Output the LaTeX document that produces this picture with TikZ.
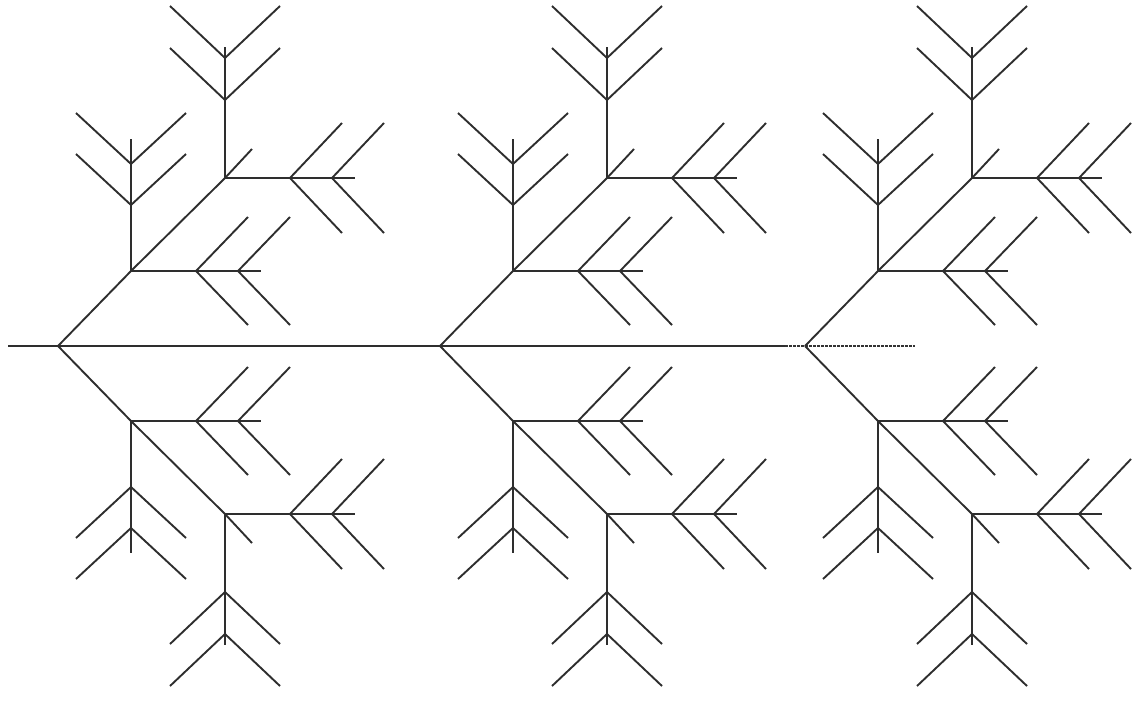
\documentclass[tikz,border=0pt]{standalone}
\begin{document}
\begin{tikzpicture}[x=1pt,y=-1pt,
  br/.style={line width=1.9pt,black!82,line cap=butt},
  tail/.style={line width=2.4pt,black!80,dash pattern=on 2.5pt off 1.5pt}]
\useasboundingbox (0,0) rectangle (1147,713);
% main axis
\coordinate (L) at (8,346);
\coordinate (N) at (440,346);
\coordinate (M) at (785,346);
\coordinate (T) at (915,346);
\draw[br] (L) -- (N);
\draw[br,line width=2.3pt] (N) -- (M);
\draw[tail] (M) -- (T);
\foreach \rx in {58,440,805}{
  \foreach \s in {1,-1}{
    \begin{scope}[shift={(\rx,346)},yscale=\s]
      \coordinate (R) at (0,0);
      \coordinate (A) at (73,-75);
      \coordinate (C) at (167,-168);
      % trunk
      \draw[br] (R) -- (A) -- (C) -- ++(27,-29);
      % main branches
      \draw[br] (A) -- ++(130,0);
      \draw[br] (A) -- ++(0,-132);
      \draw[br] (C) -- ++(130,0);
      \draw[br] (C) -- ++(0,-131);
      % chevrons on horizontal branches
      \foreach \d in {65,107}{
        \draw[br] (A) ++(\d,0) coordinate (p) ++(52,-54) -- (p) -- ++(52,54);
        \draw[br] (C) ++(\d,0) coordinate (q) ++(52,-55) -- (q) -- ++(52,55);
      }
      % chevrons on vertical branches
      \foreach \d in {66,107}{
        \draw[br] (A) ++(0,-\d) coordinate (u) ++(-55,-51) -- (u) -- ++(55,-51);
      }
      \foreach \d in {78,120}{
        \draw[br] (C) ++(0,-\d) coordinate (v) ++(-55,-52) -- (v) -- ++(55,-52);
      }
    \end{scope}
  }
}
\end{tikzpicture}
\end{document}
